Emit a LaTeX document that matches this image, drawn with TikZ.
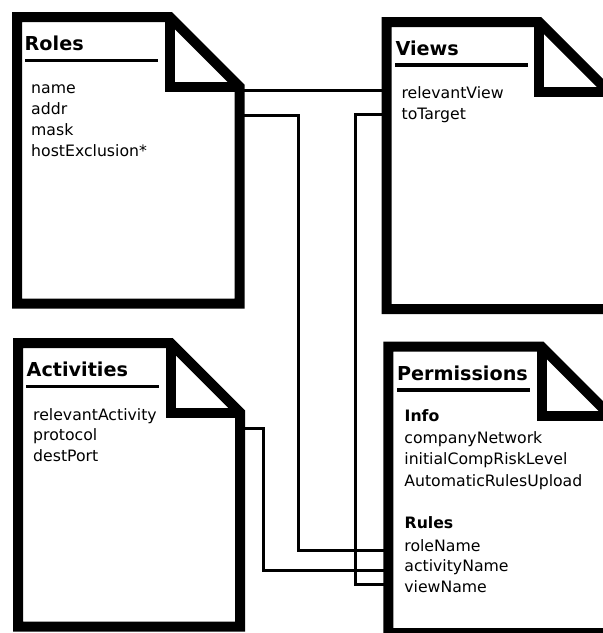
\documentclass[tikz,border=0pt]{standalone}
\usepackage{fontspec}
\setmainfont{DejaVu Sans}
\begin{document}
\begin{tikzpicture}[x=1pt,y=-1pt,
  docarea/.style={rectangle,draw=none,inner sep=0pt,outer sep=0pt},
  docline/.style={line width=10pt,line join=miter,black},
  conn/.style={line width=3pt,line join=miter,black},
  uline/.style={line width=3.3pt,black},
  field/.style={anchor=base west,inner sep=0pt,font=\fontsize{15.7pt}{21pt}\selectfont},
  fieldhead/.style={anchor=base west,inner sep=0pt,font=\fontsize{15.7pt}{21pt}\selectfont\bfseries},
  doctitle/.style={anchor=base west,inner sep=0pt,font=\fontsize{19.2pt}{23pt}\selectfont\bfseries}]
\useasboundingbox (0,0) rectangle (603,633);
\fill[white] (0,0) rectangle (603,633);

% document areas (stroke centre lines)
\node[docarea,minimum width=222.3pt,minimum height=286.5pt] (roles) at (128.35,160.45) {};
\node[docarea,minimum width=221.8pt,minimum height=287pt] (views) at (497.6,165.5) {};
\node[docarea,minimum width=222pt,minimum height=283.7pt] (acts) at (129,484.85) {};
\node[docarea,minimum width=222.7pt,minimum height=286.3pt] (perm) at (499.65,489.85) {};

% connectors
\coordinate (ta) at (300,90.3);
\coordinate (rb1) at (298.3,115);
\coordinate (rb2) at (298.3,550);
\coordinate (vc1) at (355,114.3);
\coordinate (vc2) at (355,584);
\coordinate (ad1) at (263,428.3);
\coordinate (ad2) at (263,570);
\draw[conn] (roles.east |- ta) -- (views.west |- ta);
\draw[conn] (roles.east |- rb1) -- (rb1) -- (rb2) -- (perm.west |- rb2);
\draw[conn] (views.west |- vc1) -- (vc1) -- (vc2) -- (perm.west |- vc2);
\draw[conn] (acts.east |- ad1) -- (ad1) -- (ad2) -- (perm.west |- ad2);

% document outlines
\foreach \d in {roles,views,acts,perm}{
  \fill[white] (\d.north west) -- ([xshift=-69.5pt]\d.north east) -- ([yshift=-69.5pt]\d.north east) -- (\d.south east) -- (\d.south west) -- cycle;
  \draw[docline] (\d.north west) -- ([xshift=-69.5pt]\d.north east) -- ([yshift=-69.5pt]\d.north east) -- (\d.south east) -- (\d.south west) -- cycle;
  \draw[docline] ([xshift=-69.5pt]\d.north east) -- ([xshift=-69.5pt,yshift=-69.5pt]\d.north east) -- ([yshift=-69.5pt]\d.north east);
}

% Roles
\node[doctitle] (rolesT) at (24.5,50.7) {Roles};
\draw[uline] (25,60.3) -- (158,60.3);
\node[field] (r1) at (31,93.3) {name};
\node[field] (r2) at (31,114.3) {addr};
\node[field] (r3) at (31,135.3) {mask};
\node[field] (r4) at (31,156.3) {hostExclusion*};

% Views
\node[doctitle] (viewsT) at (395.3,55) {Views};
\draw[uline] (395,65) -- (527.7,65);
\node[field] (v1) at (401.4,98.3) {relevantView};
\node[field] (v2) at (401.4,119.3) {toTarget};

% Activities
\node[doctitle] (actsT) at (26.5,376.7) {Activities};
\draw[uline] (26,386.3) -- (159,386.3);
\node[field] (a1) at (33,420) {relevantActivity};
\node[field] (a2) at (33,440.7) {protocol};
\node[field] (a3) at (33,461.3) {destPort};

% Permissions
\node[doctitle] (permT) at (396.8,380.7) {Permissions};
\draw[uline] (397.3,390) -- (530,390);
\node[fieldhead] (p0) at (404.5,421.7) {Info};
\node[field] (p1) at (404.2,443.5) {companyNetwork};
\node[field] (p2) at (404.2,464.8) {initialCompRiskLevel};
\node[field] (p3) at (404.2,486.3) {AutomaticRulesUpload};
\node[fieldhead] (p4) at (404.5,528.3) {Rules};
\node[field] (p5) at (404.2,551) {roleName};
\node[field] (p6) at (404.2,571.7) {activityName};
\node[field] (p7) at (404.2,592) {viewName};
\end{tikzpicture}
\end{document}
